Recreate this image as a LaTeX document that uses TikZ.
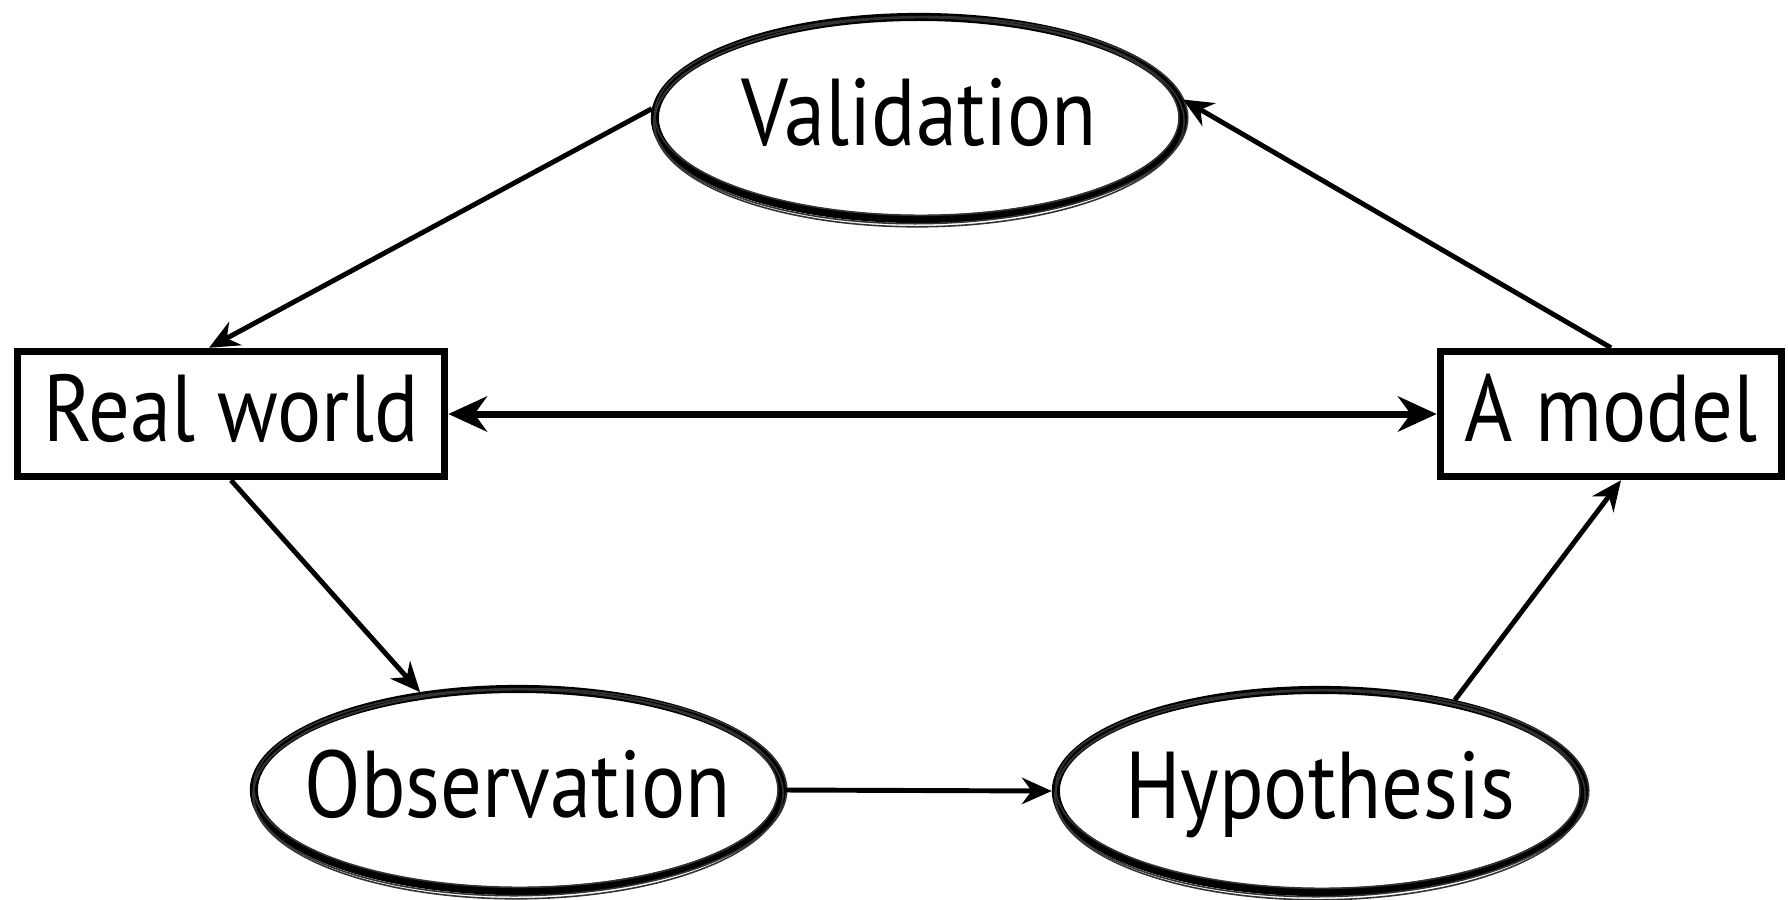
\documentclass[tikz,border=0pt]{standalone}
\usepackage{fontspec}
\setmainfont{PT Sans}[FakeStretch=0.87]
\usetikzlibrary{shapes.geometric,arrows.meta}
\tikzset{
  lbl/.style={font=\fontsize{27}{32}\selectfont, text height=0.79cm, text depth=0.25cm},
  boxnode/.style={lbl, draw, line width=2.1pt, rectangle, minimum height=1.25cm, inner sep=0pt},
  ovalnode/.style={lbl, ellipse, draw, line width=2.3pt, minimum width=5.28cm, minimum height=2.02cm, inner xsep=-0.5cm, inner ysep=0pt},
  sketch/.style={line width=0.45pt, draw=black!80},
  conn/.style={line width=1.4pt, -{Stealth[length=8.5pt,width=7.5pt]}},
  bigconn/.style={line width=2pt, {Stealth[length=11pt,width=10pt]}-{Stealth[length=11pt,width=10pt]}}
}
\begin{document}
\begin{tikzpicture}[x=0.01cm,y=-0.01cm]
\useasboundingbox (0,0) rectangle (1788,899);
\fill[white] (0,0) rectangle (1788,899);

\node[ovalnode] (V) at (919,118) {Validation};
\node[ovalnode] (O) at (518,790) {Observation};
\node[ovalnode] (H) at (1320,791) {Hypothesis};
\node[boxnode, minimum width=4.27cm] (R) at (231,414) {Real world};
\node[boxnode, minimum width=3.41cm] (A) at (1611,414) {A model};

% pencil texture around the ovals
\foreach \n in {V,O,H}{
  \draw[sketch] ([xshift=0.6pt,yshift=-0.6pt]\n.center) ellipse [x radius=2.665cm, y radius=1.035cm, rotate=0.6];
  \draw[sketch] ([xshift=-0.6pt,yshift=0.5pt]\n.center) ellipse [x radius=2.62cm, y radius=0.99cm, rotate=-0.4];
  \draw[sketch] ([yshift=-1.2pt]\n.center) ellipse [x radius=2.65cm, y radius=1.045cm, rotate=0.2];
}

\draw[conn] (V.178) -- ([xshift=-0.22cm]R.north);
\draw[conn] (A.north) -- (V.4);
\draw[bigconn] (R.east) -- (A.west);
\draw[conn] (R.south) -- (O.135);
\draw[conn] (O.east) -- (H.west);
\draw[conn] (H.34) -- ([xshift=0.1cm]A.south);
\end{tikzpicture}
\end{document}
